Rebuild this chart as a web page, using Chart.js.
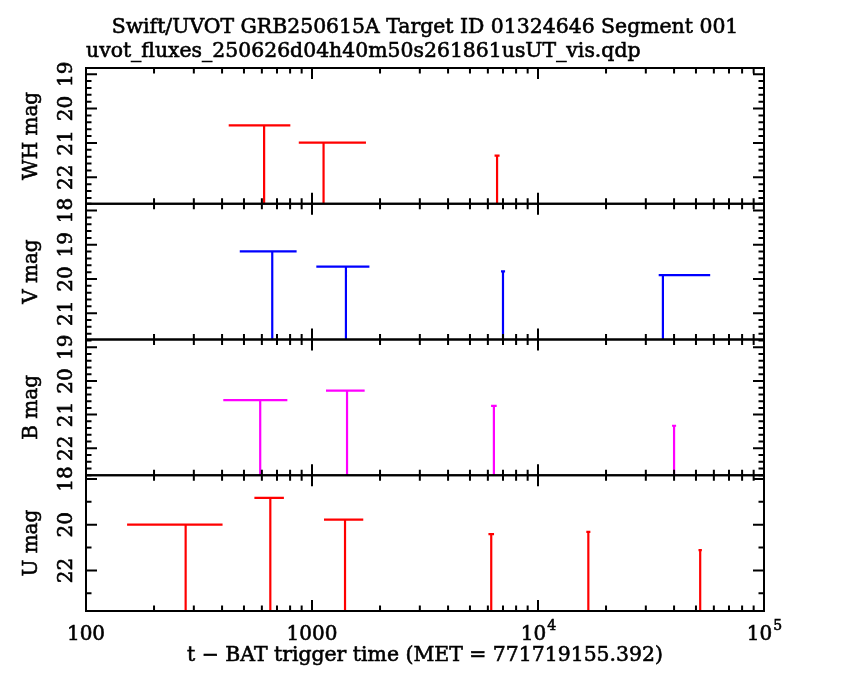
<!DOCTYPE html>
<html><head><meta charset="utf-8">
<script src="https://cdn.jsdelivr.net/npm/chart.js@4.4.0/dist/chart.umd.min.js"></script>
<style>html,body{margin:0;padding:0;background:#fff;} #wrap{width:850px;height:680px;position:relative;}</style>
</head><body><div id="wrap"><canvas id="c" width="850" height="680"></canvas></div>
<script>
// ---- texts ----
const titleText = 'Swift/UVOT GRB250615A Target ID 01324646 Segment 001';
const subtitleText = 'uvot_fluxes_250626d04h40m50s261861usUT_vis.qdp';
const xTitleText = 't \u2212 BAT trigger time (MET = 771719155.392)';

// ---- x axis ----
const xMin = 100, xMax = 100000;
const xTickValues = [100, 1000, 10000, 100000];
const xTickBase = ['100', '1000', '10', '10'];
const xTickExp = ['', '', '4', '5'];

// ---- WH panel ----
const whTime = [614, 1125, 6590];
const whTimeLo = [428, 874, 6423];
const whTimeHi = [802, 1733, 6761];
const whMag = [20.49, 20.99, 21.37];
const whRange = [18.82, 22.77];
const whTicks = [19, 20, 21, 22];
const whMinorStep = 0.2;

// ---- V panel ----
const vTime = [667, 1413, 7000, 35700];
const vTimeLo = [479, 1045, 6860, 34200];
const vTimeHi = [855, 1795, 7150, 57800];
const vMag = [19.19, 19.64, 19.78, 19.89];
const vRange = [17.80, 21.77];
const vTicks = [18, 19, 20, 21];
const vMinorStep = 0.2;

// ---- B panel ----
const bTime = [590, 1429, 6380, 40000];
const bTimeLo = [405, 1153, 6200, 39180];
const bTimeHi = [778, 1710, 6565, 40840];
const bMag = [20.57, 20.29, 20.74, 21.33];
const bRange = [18.77, 22.80];
const bTicks = [19, 20, 21, 22];
const bMinorStep = 0.2;

// ---- U panel ----
const uTime = [276, 654, 1400, 6210, 16700, 52200];
const uTimeLo = [152, 556, 1130, 6035, 16360, 51300];
const uTimeHi = [402, 751, 1686, 6390, 17050, 53100];
const uMag = [20.00, 18.83, 19.78, 20.41, 20.31, 21.11];
const uRange = [17.84, 23.77];
const uTicks = [18, 20, 22];
const uMinorStep = 1;

const panelNames = ['WH mag', 'V mag', 'B mag', 'U mag'];
const panelColors = ['#ff0000', '#0000ff', '#ff00ff', '#ff0000'];

const panels = [
  {id: 'yWH', name: panelNames[0], color: panelColors[0], t: whTime, lo: whTimeLo, hi: whTimeHi, mag: whMag, range: whRange, ticks: whTicks, minor: whMinorStep},
  {id: 'yV',  name: panelNames[1], color: panelColors[1], t: vTime, lo: vTimeLo, hi: vTimeHi, mag: vMag, range: vRange, ticks: vTicks, minor: vMinorStep},
  {id: 'yB',  name: panelNames[2], color: panelColors[2], t: bTime, lo: bTimeLo, hi: bTimeHi, mag: bMag, range: bRange, ticks: bTicks, minor: bMinorStep},
  {id: 'yU',  name: panelNames[3], color: panelColors[3], t: uTime, lo: uTimeLo, hi: uTimeHi, mag: uMag, range: uRange, ticks: uTicks, minor: uMinorStep}
];

// upper-limit markers: horizontal bar over the exposure + line down to the panel bottom
function limitPoints(p) {
  const pts = [];
  const bottom = p.range[1];
  for (let i = 0; i < p.t.length; i++) {
    pts.push({x: p.lo[i], y: p.mag[i]}, {x: p.hi[i], y: p.mag[i]}, {x: p.t[i], y: null});
    pts.push({x: p.t[i], y: p.mag[i]}, {x: p.t[i], y: bottom}, {x: p.t[i], y: null});
  }
  return pts;
}

const datasets = panels.map(p => ({
  label: p.name,
  data: limitPoints(p),
  xAxisID: 'x',
  yAxisID: p.id,
  borderColor: p.color,
  backgroundColor: p.color,
  borderWidth: 2.2,
  pointRadius: 0,
  pointHoverRadius: 0,
  fill: false,
  tension: 0,
  spanGaps: false,
  borderCapStyle: 'butt'
}));

const scales = {
  x: {type: 'logarithmic', min: xMin, max: xMax, display: false, position: 'bottom'}
};
panels.forEach((p, i) => {
  scales[p.id] = {
    type: 'linear', position: 'left', reverse: true,
    min: p.range[0], max: p.range[1],
    display: false, stack: 'panels', stackWeight: 1, weight: 4 - i
  };
});

const FONT = '"DejaVu Serif", "Liberation Serif", serif';

function boldText(ctx, s, x, y) {
  ctx.fillText(s, x, y);
  ctx.strokeText(s, x, y);
}

const pgplotAxes = {
  id: 'pgplotAxes',
  afterDraw(chart) {
    const ctx = chart.ctx;
    const area = chart.chartArea;
    const xs = chart.scales.x;
    ctx.save();
    ctx.strokeStyle = '#000';
    ctx.fillStyle = '#000';
    ctx.lineWidth = 2;
    ctx.lineCap = 'butt';
    const MAJ = 11, MIN = 5.5;

    panels.forEach(p => {
      const ys = chart.scales[p.id];
      const top = ys.top, bottom = ys.bottom;
      ctx.lineWidth = 2;
      ctx.strokeRect(area.left, top, area.right - area.left, bottom - top);

      // y ticks, inward on both sides
      ctx.beginPath();
      const step = p.minor;
      const start = Math.ceil(p.range[0] / step - 1e-6) * step;
      for (let v = start; v <= p.range[1] + 1e-9; v += step) {
        const vv = Math.round(v * 100) / 100;
        const isMajor = p.ticks.some(t => Math.abs(t - vv) < 1e-6) || (Math.abs(vv - Math.round(vv)) < 1e-6 && step < 1);
        const py = ys.getPixelForValue(vv);
        const len = isMajor ? MAJ : MIN;
        ctx.moveTo(area.left, py); ctx.lineTo(area.left + len, py);
        ctx.moveTo(area.right, py); ctx.lineTo(area.right - len, py);
      }
      if (step >= 1) {
        p.ticks.forEach(t => {
          const py = ys.getPixelForValue(t);
          ctx.moveTo(area.left, py); ctx.lineTo(area.left + MAJ, py);
          ctx.moveTo(area.right, py); ctx.lineTo(area.right - MAJ, py);
        });
      }
      // x ticks, inward at top and bottom of this panel
      for (let d = 100; d < xMax; d *= 10) {
        for (let m = 1; m <= 9; m++) {
          const v = m * d;
          if (v <= xMin || v >= xMax) continue;
          const px = xs.getPixelForValue(v);
          const len = m === 1 ? MAJ : MIN;
          ctx.moveTo(px, top); ctx.lineTo(px, top + len);
          ctx.moveTo(px, bottom); ctx.lineTo(px, bottom - len);
        }
      }
      ctx.stroke();

      // y tick labels (rotated)
      ctx.lineWidth = 0.6;
      ctx.font = '20px ' + FONT;
      ctx.textAlign = 'center';
      ctx.textBaseline = 'alphabetic';
      p.ticks.forEach(t => {
        const py = ys.getPixelForValue(t);
        ctx.save();
        ctx.translate(72, py);
        ctx.rotate(-Math.PI / 2);
        boldText(ctx, String(t), 0, 0);
        ctx.restore();
      });
      // panel title
      ctx.save();
      ctx.translate(37, (top + bottom) / 2);
      ctx.rotate(-Math.PI / 2);
      boldText(ctx, p.name, 0, 0);
      ctx.restore();
    });

    // x tick labels
    ctx.lineWidth = 0.6;
    ctx.textBaseline = 'alphabetic';
    xTickValues.forEach((v, i) => {
      const px = xs.getPixelForValue(v);
      ctx.font = '20px ' + FONT;
      const wb = ctx.measureText(xTickBase[i]).width;
      let we = 0;
      if (xTickExp[i]) { ctx.font = '14px ' + FONT; we = ctx.measureText(xTickExp[i]).width; }
      const x0 = px - (wb + we) / 2;
      ctx.textAlign = 'left';
      ctx.font = '20px ' + FONT;
      boldText(ctx, xTickBase[i], x0, 640);
      if (xTickExp[i]) {
        ctx.font = '14px ' + FONT;
        boldText(ctx, xTickExp[i], x0 + wb + 1, 630);
      }
    });

    // titles
    ctx.font = '20.4px ' + FONT;
    ctx.textAlign = 'center';
    boldText(ctx, xTitleText, (area.left + area.right) / 2, 661);
    boldText(ctx, titleText, 425, 33);
    ctx.textAlign = 'left';
    boldText(ctx, subtitleText, area.left, 57);
    ctx.restore();
  }
};

new Chart(document.getElementById('c'), {
  type: 'line',
  data: {datasets},
  options: {
    responsive: false,
    animation: false,
    parsing: true,
    layout: {padding: {top: 68, left: 86, right: 86, bottom: 69}},
    scales,
    plugins: {legend: {display: false}, tooltip: {enabled: false}, title: {display: false}}
  },
  plugins: [pgplotAxes]
});
</script>
</body></html>
